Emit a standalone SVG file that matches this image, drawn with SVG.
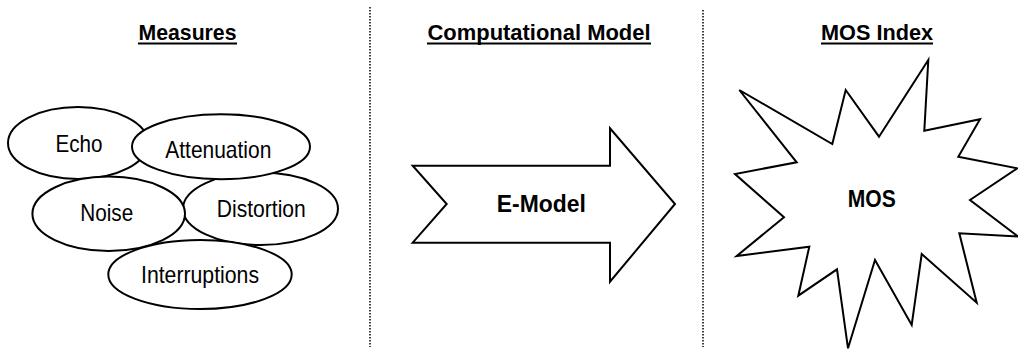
<svg xmlns="http://www.w3.org/2000/svg" width="1018" height="349" viewBox="0 0 1018 349">
  <style>
    .shape { fill: #ffffff; stroke: #000000; stroke-width: 2; stroke-linejoin: miter; }
    .lbl { font-family: "Liberation Sans Narrow", "Arial Narrow", "Liberation Sans", Arial, sans-serif; font-size: 24px; fill: #000000; text-anchor: middle; }
    .bold { font-weight: bold; }
    .title { font-family: "Liberation Sans Narrow", "Arial Narrow", "Liberation Sans", Arial, sans-serif; font-size: 22px; font-weight: bold; fill: #000000; text-anchor: middle; }
    .divider { stroke: #000000; stroke-width: 1.5; stroke-dasharray: 1.5 1.5; fill: none; }
    .underline { stroke: #000000; stroke-width: 2; }
  </style>
  <rect width="1018" height="349" fill="#ffffff"/>

  <!-- column dividers -->
  <g id="dividers">
    <line class="divider" x1="370" y1="7" x2="370" y2="347"/>
    <line class="divider" x1="703" y1="10" x2="703" y2="347"/>
  </g>

  <!-- column headings -->
  <g id="headings">
    <text class="title" x="187.5" y="39.5" textLength="98" lengthAdjust="spacingAndGlyphs">Measures</text>
    <line class="underline" x1="138" y1="43.5" x2="237" y2="43.5"/>
    <text class="title" x="539" y="39.5" textLength="223" lengthAdjust="spacingAndGlyphs">Computational Model</text>
    <line class="underline" x1="427" y1="43.5" x2="651" y2="43.5"/>
    <text class="title" x="877" y="39.5" textLength="112" lengthAdjust="spacingAndGlyphs">MOS Index</text>
    <line class="underline" x1="821" y1="43.5" x2="933" y2="43.5"/>
  </g>

  <!-- measures -->
  <g id="echo">
    <ellipse class="shape" cx="78" cy="143" rx="70" ry="36"/>
    <text class="lbl" x="79" y="151.5" textLength="47" lengthAdjust="spacingAndGlyphs">Echo</text>
  </g>
  <g id="distortion">
    <ellipse class="shape" cx="260.5" cy="208.7" rx="77.5" ry="36.3"/>
    <text class="lbl" x="261.3" y="216.5" textLength="89" lengthAdjust="spacingAndGlyphs">Distortion</text>
  </g>
  <g id="attenuation">
    <ellipse class="shape" cx="221" cy="146.7" rx="89" ry="32.5"/>
    <text class="lbl" x="218.3" y="158.3" textLength="106" lengthAdjust="spacingAndGlyphs">Attenuation</text>
  </g>
  <g id="noise">
    <ellipse class="shape" cx="108.7" cy="213.8" rx="76.3" ry="37.2"/>
    <text class="lbl" x="106.7" y="220.7" textLength="53" lengthAdjust="spacingAndGlyphs">Noise</text>
  </g>
  <g id="interruptions">
    <ellipse class="shape" cx="200" cy="274.5" rx="91.7" ry="34.5"/>
    <text class="lbl" x="200" y="283.3" textLength="118" lengthAdjust="spacingAndGlyphs">Interruptions</text>
  </g>

  <!-- computational model -->
  <g id="e-model">
    <polygon class="shape" points="412.7,165.7 610,165.7 610,128.3 675,204 610,281.7 610,242.7 412.7,242.7 446.7,204"/>
    <text class="lbl bold" x="541.3" y="211.7" textLength="89" lengthAdjust="spacingAndGlyphs">E-Model</text>
  </g>

  <!-- MOS index -->
  <g id="mos">
    <polygon class="shape" points="739.3,90 832.3,144 845.7,90 879,136.7 928.3,60 924.3,130.7 980,119.3 958.3,156.7 1017.3,168.3 970,200 1018,236.5 959.3,233.3 976.7,302.7 921.7,254 911.7,325 875,260 848,348.3 837,269.3 798.3,295.7 809.3,246.7 736.7,256 784,217.3 735,174 796.7,162.3"/>
    <text class="lbl bold" x="871.8" y="207.3" textLength="48" lengthAdjust="spacingAndGlyphs">MOS</text>
  </g>
</svg>
